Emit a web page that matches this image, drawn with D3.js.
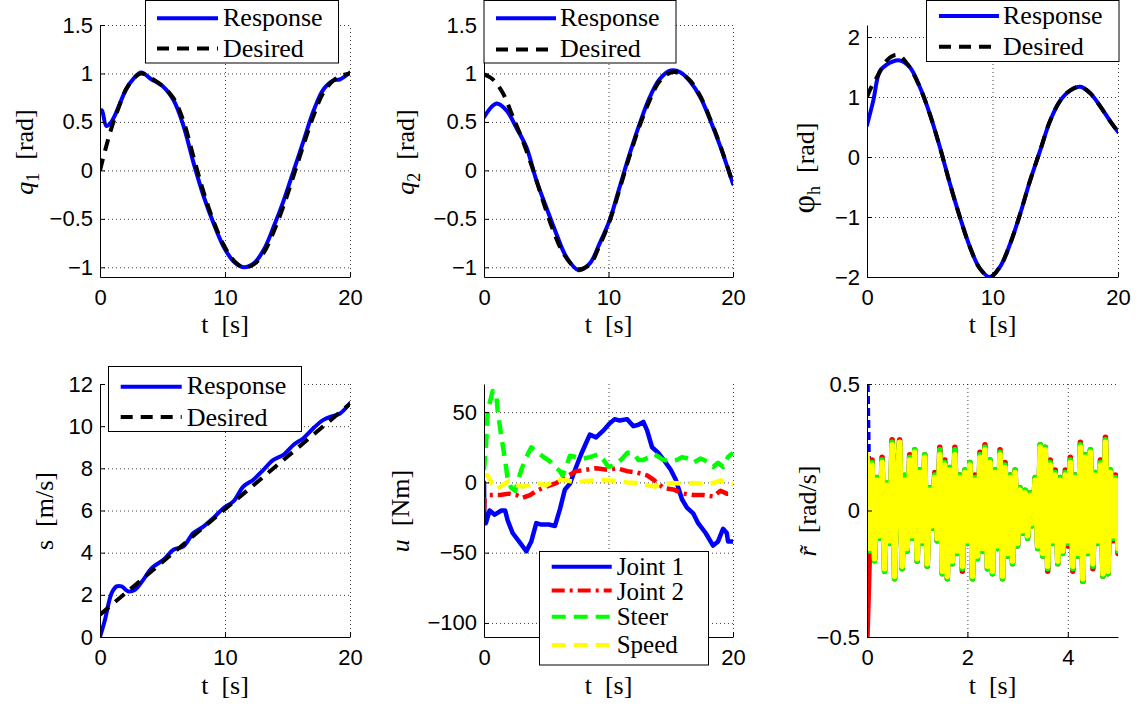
<!DOCTYPE html>
<html>
<head>
<meta charset="utf-8">
<script src="https://cdn.jsdelivr.net/npm/d3@7"></script>
<style>
    body { margin: 0; background: #ffffff; }
    #chart { width: 1139px; height: 710px; }
    .tick text { font-family: "Liberation Sans", Arial, sans-serif; font-size: 22px; fill: #000; }
    .domain { stroke: #000; stroke-width: 1; }
    .axis .tick line { stroke: #000; stroke-width: 1; }
    .grid line { stroke: #000; stroke-width: 1; stroke-dasharray: 1,3; opacity: 0.75; }
    .lbl { font-family: "Liberation Serif", "Times New Roman", serif; font-size: 26px; fill: #000; }
</style>
</head>
<body>
<div id="chart"></div>
<script>

/*
DATA
*/
// q1
const q1RespT = [0, 0.15, 0.5, 0.8, 1.2, 2.1, 2.7, 3.3, 4.1, 5, 5.9, 6.7, 7.5, 8.3, 9.1, 9.9, 10.7, 11.5, 12.3, 13.1, 13.9, 14.7, 15.5, 16.3, 17.1, 17.9, 18.7, 19.2, 20];
const q1Resp  = [0.6, 0.62, 0.46, 0.48, 0.57, 0.84, 0.95, 1.01, 0.94, 0.87, 0.72, 0.45, 0.07, -0.27, -0.55, -0.79, -0.94, -1.0, -0.96, -0.82, -0.58, -0.31, 0, 0.31, 0.62, 0.84, 0.93, 0.94, 1.01];
const q1DesT  = [0, 0.5, 1, 1.5, 2.1, 2.7, 3.3, 4.1, 5, 5.9, 6.7, 7.5, 8.3, 9.1, 9.9, 10.7, 11.5, 12.3, 13.1, 13.9, 14.7, 15.5, 16.3, 17.1, 17.9, 18.7, 19.4, 20];
const q1Des   = [0, 0.25, 0.47, 0.65, 0.84, 0.95, 1.0, 0.95, 0.87, 0.74, 0.5, 0.13, -0.23, -0.53, -0.77, -0.93, -1.0, -0.97, -0.85, -0.63, -0.36, -0.05, 0.27, 0.57, 0.81, 0.93, 0.98, 1.0];

// q2
const q2RespT = [0, 1, 1.8, 2.6, 3.4, 4.2, 5, 5.8, 6.6, 7.6, 8.5, 9.3, 10.1, 10.9, 11.7, 12.5, 13.3, 14.1, 15, 15.8, 16.6, 17.4, 18.2, 19, 20];
const q2Resp  = [0.55, 0.69, 0.62, 0.44, 0.24, -0.1, -0.38, -0.65, -0.89, -1.03, -0.96, -0.75, -0.51, -0.17, 0.17, 0.48, 0.75, 0.94, 1.03, 1.01, 0.91, 0.75, 0.51, 0.24, -0.14];
const q2DesT  = [0, 0.7, 1.5, 2.3, 3.1, 3.9, 4.7, 5.5, 6.3, 7.1, 7.6, 8.5, 9.3, 10.1, 10.9, 11.7, 12.5, 13.3, 14.1, 15, 15.8, 16.6, 17.4, 18.2, 19, 20];
const q2Des   = [0.99, 0.94, 0.8, 0.56, 0.31, 0.02, -0.3, -0.6, -0.84, -0.98, -1.02, -0.97, -0.77, -0.52, -0.19, 0.15, 0.46, 0.72, 0.92, 1.01, 1.0, 0.92, 0.76, 0.52, 0.25, -0.14];

// phi_h
const phRespT = [0, 0.5, 1, 1.5, 2.6, 3.4, 4.2, 5, 5.8, 6.6, 7.4, 8.2, 9, 9.8, 10.6, 11.4, 12.2, 13, 13.8, 14.6, 15.4, 16.2, 17, 17.8, 18.6, 19.4, 20];
const phResp  = [0.53, 0.94, 1.42, 1.53, 1.61, 1.5, 1.17, 0.72, 0.17, -0.44, -1.0, -1.5, -1.86, -2.0, -1.83, -1.45, -0.95, -0.39, 0.11, 0.61, 0.94, 1.11, 1.17, 1.06, 0.84, 0.59, 0.42];
const phDesT  = [0, 0.35, 0.9, 1.5, 2.1, 2.6, 3.1, 3.4, 4.2, 5, 5.8, 6.6, 7.4, 8.2, 9, 9.8, 10.6, 11.4, 12.2, 13, 13.8, 14.6, 15.4, 16.2, 17, 17.8, 18.6, 19.4, 20];
const phDes   = [1.0, 1.17, 1.37, 1.59, 1.69, 1.69, 1.58, 1.5, 1.17, 0.72, 0.17, -0.44, -1.0, -1.5, -1.86, -2.0, -1.83, -1.45, -0.95, -0.39, 0.11, 0.61, 0.94, 1.11, 1.17, 1.06, 0.84, 0.59, 0.42];

// s
const sRespT = [0, 0.4, 0.93, 1.33, 1.73, 2.27, 2.8, 3.47, 4.13, 5.07, 5.87, 6.67, 7.47, 8.27, 9.07, 9.87, 10.67, 11.47, 12.27, 13.07, 13.87, 14.67, 15.47, 16.27, 17.07, 17.87, 18.67, 19.2, 20];
const sResp  = [0, 0.82, 2.08, 2.4, 2.4, 2.16, 2.24, 2.72, 3.27, 3.66, 4.14, 4.3, 4.93, 5.24, 5.64, 6.11, 6.43, 7.14, 7.46, 7.93, 8.4, 8.64, 9.11, 9.43, 9.9, 10.3, 10.49, 10.6, 11.09];
const sDesT  = [0, 5, 10, 15, 20];
const sDes   = [1.06, 3.56, 6.06, 8.56, 11.06];

// u
const j1T = [0, 0.03, 0.15, 0.45, 0.86, 1.4, 1.7, 1.9, 2.3, 2.9, 3.4, 3.8, 4.2, 4.6, 5.2, 5.7, 6.1, 6.5, 6.9, 7.4, 7.8, 8.2, 8.5, 9.0, 9.6, 10.1, 10.5, 10.9, 11.5, 12.0, 12.4, 12.8, 13.1, 13.5, 14.0, 14.6, 15.0, 15.4, 15.9, 16.3, 16.8, 17.2, 17.8, 18.4, 18.8, 19.2, 19.5, 19.6, 20];
const j1  = [0, -27, -29, -20, -23, -20, -20, -27, -36, -43, -49, -42, -29, -30, -30, -31, -19, -5, -1, 11, 20, 28, 34, 32, 37, 42, 45, 44, 45, 40, 41, 43, 37, 25, 21, 14, 9, 2, -12, -18, -22, -29, -36, -45, -42, -33, -36, -42, -42];
const j2T = [0, 0.05, 0.45, 1.3, 2, 2.6, 3.1, 3.7, 4.2, 5, 5.8, 6.6, 7.4, 8.2, 9, 9.9, 10.7, 11.5, 12.3, 13.1, 13.6, 14.4, 15.2, 16, 16.8, 17.6, 18.4, 19, 19.5, 20];
const j2  = [-20, -12, -9, -9, -8, -9, -11, -9, -6, -3, -0.5, 4, 8, 9, 10, 9, 10, 8, 7, 5, 2, -4, -5, -8, -9, -9, -10, -6, -8, -8];
const steerT = [0, 0.13, 0.3, 0.7, 1, 1.1, 1.4, 1.7, 1.9, 2.2, 2.5, 2.7, 3, 3.4, 3.8, 4.2, 4.8, 5.3, 5.7, 6.1, 6.3, 6.6, 6.9, 7.4, 8, 8.5, 9.2, 9.6, 10, 10.4, 11, 11.5, 12, 12.4, 12.8, 13.3, 13.7, 14.4, 15, 15.5, 15.9, 16.4, 16.8, 17.4, 17.9, 18.4, 18.8, 19.2, 19.6, 20];
const steer  = [9, 21, 51, 65, 61, 51, 32, 16, 2, -4, -6, 0, 9, 18, 25, 22, 18, 15, 11, 8, 5, 11, 19, 18, 17, 18, 20, 16, 11, 12, 16, 21, 21, 16, 16, 18, 20, 16, 15, 16, 18, 17, 14, 17, 15, 11, 14, 11, 18, 21];
const speedT = [0, 0.3, 0.7, 1, 1.5, 2, 2.6, 3.1, 3.7, 4.2, 5, 5.8, 6.6, 7.4, 8.2, 9, 9.9, 10.7, 11.5, 12.3, 13.1, 13.7, 14.4, 15.2, 16, 16.8, 17.6, 18.4, 19, 19.5, 20];
const speed  = [5, 5, -2, -5, -2, 1, -2, -3, -2, -0.5, -2, 2, 1.5, 0, 1, 1.5, 1.5, 1, 0, -0.5, -2, -3, -1, -0.5, -1, -0.5, -1, -0.5, 1.5, 0, -1];

// r tilde, one sample every 0.05 s
const rStep = 0.05;
const rBlue = [0.5, -0.15, 0.18, -0.19, 0.12, -0.10];
const rRed = [-0.5, -0.16, 0.20, -0.19, 0.13, -0.11, 0.21, -0.24, 0.10, -0.13,
    0.28, -0.27, 0.15, 0.28, -0.23, 0.13, -0.16, 0.22, -0.11, 0.24,
    -0.20, 0.16, -0.12, 0.22, -0.22, 0.09, -0.07, 0.15, -0.12, 0.25,
    -0.25, 0.20, -0.27, 0.17, -0.21, 0.25, -0.17, 0.14, -0.24, 0.16,
    -0.13, 0.19, -0.27, 0.14, -0.19, 0.23, -0.16, 0.26, -0.23, 0.20,
    -0.25, 0.16, -0.15, 0.24, -0.27, 0.19, -0.18, 0.14, -0.21, 0.16,
    -0.14, 0.09, -0.09, 0.08, -0.11, 0.07, -0.06, 0.13, -0.15, 0.26,
    -0.18, 0.25, -0.24, 0.20, -0.13, 0.16, -0.21, 0.13, -0.17, 0.16,
    -0.14, 0.21, -0.24, 0.14, -0.18, 0.27, -0.28, 0.22, -0.17, 0.24,
    -0.23, 0.15, -0.13, 0.20, -0.26, 0.29, -0.25, 0.16, -0.12, 0.14, -0.17];
const rGreen = [0.10, -0.16, 0.19, -0.20, 0.13, -0.11, 0.20, -0.24, 0.11, -0.13,
    0.27, -0.27, 0.16, 0.27, -0.23, 0.14, -0.16, 0.21, -0.11, 0.24,
    -0.20, 0.16, -0.13, 0.22, -0.22, 0.09, -0.07, 0.14, -0.12, 0.24,
    -0.25, 0.19, -0.27, 0.17, -0.21, 0.24, -0.17, 0.14, -0.23, 0.16,
    -0.13, 0.19, -0.27, 0.13, -0.19, 0.22, -0.16, 0.25, -0.23, 0.20,
    -0.25, 0.16, -0.15, 0.23, -0.27, 0.18, -0.18, 0.14, -0.21, 0.16,
    -0.14, 0.09, -0.09, 0.08, -0.11, 0.07, -0.06, 0.13, -0.15, 0.26,
    -0.18, 0.25, -0.23, 0.19, -0.13, 0.15, -0.21, 0.13, -0.17, 0.15,
    -0.13, 0.20, -0.23, 0.14, -0.18, 0.26, -0.28, 0.22, -0.17, 0.24,
    -0.22, 0.15, -0.13, 0.19, -0.26, 0.28, -0.25, 0.16, -0.11, 0.13, -0.16];
const rYellow = [0.22, -0.15, 0.18, -0.19, 0.12, -0.10, 0.19, -0.23, 0.10, -0.12,
    0.26, -0.26, 0.15, 0.27, -0.22, 0.12, -0.15, 0.20, -0.10, 0.23,
    -0.19, 0.15, -0.12, 0.21, -0.21, 0.08, -0.06, 0.13, -0.11, 0.22,
    -0.24, 0.18, -0.26, 0.16, -0.20, 0.22, -0.16, 0.13, -0.22, 0.15,
    -0.12, 0.18, -0.26, 0.12, -0.18, 0.21, -0.15, 0.24, -0.22, 0.19,
    -0.24, 0.15, -0.14, 0.22, -0.26, 0.17, -0.17, 0.13, -0.20, 0.15,
    -0.13, 0.08, -0.08, 0.07, -0.10, 0.06, -0.05, 0.12, -0.14, 0.25,
    -0.17, 0.24, -0.22, 0.18, -0.12, 0.14, -0.20, 0.12, -0.16, 0.14,
    -0.12, 0.19, -0.22, 0.13, -0.17, 0.25, -0.27, 0.21, -0.16, 0.23,
    -0.21, 0.14, -0.12, 0.18, -0.25, 0.27, -0.24, 0.15, -0.10, 0.12, -0.15];
const rTime = values => values.map((v, i) => i * rStep);

// tick values
const tTicks20 = [0, 10, 20];
const tTicks5 = [0, 2, 4];
const qTicks = [-1, -0.5, 0, 0.5, 1, 1.5];
const phTicks = [-2, -1, 0, 1, 2];
const sTicks = [0, 2, 4, 6, 8, 10, 12];
const uTicks = [-100, -50, 0, 50];
const rTicks = [-0.5, 0, 0.5];


/*
CREATE SVG CANVAS
*/
const width = 1139;
const height = 710;

const svg = d3.select("#chart")
    .append("svg")
    .attr("width", width)
    .attr("height", height);

const respStyle = {color: "#0000ff", dash: null, w: 4};
const desStyle = {color: "#000000", dash: "12,8", w: 4};

const panels = [
    {
        left: 100, right: 350, top: 25, bottom: 277,
        xDomain: [0, 20], yDomain: [-1.1, 1.5], xTicks: tTicks20, yTicks: qTicks,
        curve: d3.curveCatmullRom,
        series: [
            {t: q1RespT, v: q1Resp, ...respStyle},
            {t: q1DesT, v: q1Des, ...desStyle}
        ],
        ylab: {x: 33, y: 152, parts: [["q", "i"], ["1", "sub"], ["\u2002[rad]", ""]]},
        xlab: {y: 333},
        legend: {x: 145.5, y: 0.5, w: 193, h: 62.5, l1: 157, l2: 218, tx: 223, fs: 26,
            rows: [{y: 18.3, b: 26, name: "Response", s: respStyle}, {y: 48.5, b: 57, name: "Desired", s: desStyle}]}
    },
    {
        left: 484, right: 733, top: 25, bottom: 277,
        xDomain: [0, 20], yDomain: [-1.1, 1.5], xTicks: tTicks20, yTicks: qTicks,
        curve: d3.curveCatmullRom,
        series: [
            {t: q2RespT, v: q2Resp, ...respStyle},
            {t: q2DesT, v: q2Des, ...desStyle}
        ],
        ylab: {x: 414, y: 152, parts: [["q", "i"], ["2", "sub"], ["\u2002[rad]", ""]]},
        xlab: {y: 333},
        legend: {x: 484, y: 0.5, w: 192, h: 62.5, l1: 496, l2: 556, tx: 560, fs: 26,
            rows: [{y: 18.3, b: 26, name: "Response", s: respStyle}, {y: 49.5, b: 57, name: "Desired", s: desStyle}]}
    },
    {
        left: 867, right: 1118, top: 25, bottom: 277,
        xDomain: [0, 20], yDomain: [-2, 2.2], xTicks: tTicks20, yTicks: phTicks,
        curve: d3.curveCatmullRom,
        series: [
            {t: phRespT, v: phResp, ...respStyle},
            {t: phDesT, v: phDes, ...desStyle}
        ],
        ylab: {x: 814, y: 168, parts: [["\u03c6", "big"], ["h", "sub"], ["\u2002[rad]", ""]]},
        xlab: {y: 333},
        legend: {x: 926.5, y: 0.5, w: 192.5, h: 61, l1: 939, l2: 999, tx: 1003, fs: 26,
            rows: [{y: 16, b: 24, name: "Response", s: respStyle}, {y: 46.7, b: 54.5, name: "Desired", s: desStyle}]}
    },
    {
        left: 100, right: 350, top: 384, bottom: 637,
        xDomain: [0, 20], yDomain: [0, 12], xTicks: tTicks20, yTicks: sTicks,
        curve: d3.curveCatmullRom,
        series: [
            {t: sRespT, v: sResp, ...respStyle},
            {t: sDesT, v: sDes, ...desStyle}
        ],
        ylab: {x: 53, y: 511, parts: [["s\u2002[m/s]", ""]]},
        xlab: {y: 694},
        legend: {x: 108.5, y: 366.5, w: 193, h: 65, l1: 120.7, l2: 181.7, tx: 186.7, fs: 26,
            rows: [{y: 386.7, b: 394, name: "Response", s: respStyle}, {y: 417, b: 426, name: "Desired", s: desStyle}]}
    },
    {
        left: 484, right: 733, top: 384, bottom: 637,
        xDomain: [0, 20], yDomain: [-110, 70], xTicks: tTicks20, yTicks: uTicks,
        curve: d3.curveLinear,
        series: [
            {t: j1T, v: j1, color: "#0000ff", dash: null, w: 4.5},
            {t: j2T, v: j2, color: "#ff0000", dash: "13,5,3,5", w: 4.5},
            {t: steerT, v: steer, color: "#00ff00", dash: "14,8", w: 4.5},
            {t: speedT, v: speed, color: "#ffff00", dash: "14,8", w: 4.5}
        ],
        ylab: {x: 409, y: 511, parts: [["u", "i"], ["\u2002[Nm]", ""]]},
        xlab: {y: 694},
        legend: {x: 539.5, y: 551.5, w: 169, h: 113.5, l1: 551.7, l2: 611.7, tx: 616.7, fs: 25,
            rows: [
                {y: 566.7, b: 575, name: "Joint 1", s: {color: "#0000ff", dash: null, w: 4}},
                {y: 590.5, b: 600, name: "Joint 2", s: {color: "#ff0000", dash: "13,5,3,5", w: 4}},
                {y: 616.7, b: 625, name: "Steer", s: {color: "#00ff00", dash: "14,8", w: 4}},
                {y: 645, b: 653, name: "Speed", s: {color: "#ffff00", dash: "14,8", w: 4}}
            ]}
    },
    {
        left: 867, right: 1118, top: 384, bottom: 637,
        xDomain: [0, 5], yDomain: [-0.5, 0.5], xTicks: tTicks5, yTicks: rTicks,
        curve: d3.curveLinear,
        series: [
            {t: rTime(rBlue), v: rBlue, color: "#0000ff", dash: "8,4", w: 5.5},
            {t: rTime(rRed), v: rRed, color: "#ff0000", dash: null, w: 5.5},
            {t: rTime(rGreen), v: rGreen, color: "#00ff00", dash: null, w: 5.5},
            {t: rTime(rYellow), v: rYellow, color: "#ffff00", dash: null, w: 5.5}
        ],
        ylab: {x: 816, y: 511, parts: [["r\u0303", "i"], ["\u2002[rad/s]", ""]]},
        xlab: {y: 694},
        legend: null
    }
];


/*
DRAW EACH PANEL
*/
panels.forEach(function(p, idx) {
    const xScale = d3.scaleLinear().domain(p.xDomain).range([p.left, p.right]);
    const yScale = d3.scaleLinear().domain(p.yDomain).range([p.bottom, p.top]);
    const g = svg.append("g");

    // dotted grid
    g.append("g")
        .attr("class", "grid")
        .attr("transform", `translate(0,${p.bottom})`)
        .call(d3.axisBottom(xScale)
            .tickValues(p.xTicks.filter(d => d !== p.xDomain[0]))
            .tickSize(-(p.bottom - p.top))
            .tickFormat(""))
        .call(s => s.select(".domain").remove());

    g.append("g")
        .attr("class", "grid")
        .attr("transform", `translate(${p.left},0)`)
        .call(d3.axisLeft(yScale)
            .tickValues(p.yTicks.filter(d => d !== p.yDomain[0]))
            .tickSize(-(p.right - p.left))
            .tickFormat(""))
        .call(s => s.select(".domain").remove());

    // lines
    g.append("clipPath")
        .attr("id", "clip" + idx)
        .append("rect")
        .attr("x", p.left)
        .attr("y", p.top)
        .attr("width", p.right - p.left)
        .attr("height", p.bottom - p.top);

    const line = d3.line()
        .x(d => xScale(d[0]))
        .y(d => yScale(d[1]))
        .curve(p.curve);

    p.series.forEach(function(s) {
        g.append("path")
            .attr("clip-path", `url(#clip${idx})`)
            .attr("d", line(d3.zip(s.t, s.v)))
            .attr("fill", "none")
            .attr("stroke", s.color)
            .attr("stroke-width", s.w)
            .attr("stroke-dasharray", s.dash)
            .attr("stroke-linejoin", "round")
            .attr("stroke-linecap", s.dash ? "butt" : "round");
    });

    // axes
    g.append("g")
        .attr("class", "axis")
        .attr("transform", `translate(0,${p.bottom})`)
        .call(d3.axisBottom(xScale)
            .tickValues(p.xTicks)
            .tickSizeInner(-5)
            .tickSizeOuter(0)
            .tickPadding(12)
            .tickFormat(d3.format("")));

    g.append("g")
        .attr("class", "axis")
        .attr("transform", `translate(${p.left},0)`)
        .call(d3.axisLeft(yScale)
            .tickValues(p.yTicks)
            .tickSizeInner(-5)
            .tickSizeOuter(0)
            .tickPadding(7)
            .tickFormat(d3.format("")));

    // axis labels
    g.append("text")
        .attr("class", "lbl")
        .attr("x", (p.left + p.right) / 2)
        .attr("y", p.xlab.y)
        .attr("text-anchor", "middle")
        .text("t\u2002[s]");

    const yl = g.append("text")
        .attr("class", "lbl")
        .attr("transform", `translate(${p.ylab.x},${p.ylab.y}) rotate(-90)`)
        .attr("text-anchor", "middle");
    let shifted = false;
    p.ylab.parts.forEach(function(part) {
        const ts = yl.append("tspan").text(part[0]);
        if (part[1] === "i") ts.style("font-style", "italic");
        if (part[1] === "big") ts.style("font-size", "32px");
        if (part[1] === "sub") {
            ts.style("font-size", "18px").attr("dy", 6);
            shifted = true;
        } else if (shifted) {
            ts.attr("dy", -6);
            shifted = false;
        }
    });

    // legend
    if (p.legend) {
        const L = p.legend;
        const lg = svg.append("g");
        lg.append("rect")
            .attr("x", L.x)
            .attr("y", L.y)
            .attr("width", L.w)
            .attr("height", L.h)
            .attr("fill", "#ffffff")
            .attr("stroke", "#000")
            .attr("stroke-width", 1);
        L.rows.forEach(function(r) {
            lg.append("line")
                .attr("x1", L.l1)
                .attr("x2", L.l2)
                .attr("y1", r.y)
                .attr("y2", r.y)
                .attr("stroke", r.s.color)
                .attr("stroke-width", r.s.w)
                .attr("stroke-dasharray", r.s.dash);
            lg.append("text")
                .attr("class", "lbl")
                .style("font-size", L.fs + "px")
                .attr("x", L.tx)
                .attr("y", r.b)
                .text(r.name);
        });
    }
});

</script>
</body>
</html>
